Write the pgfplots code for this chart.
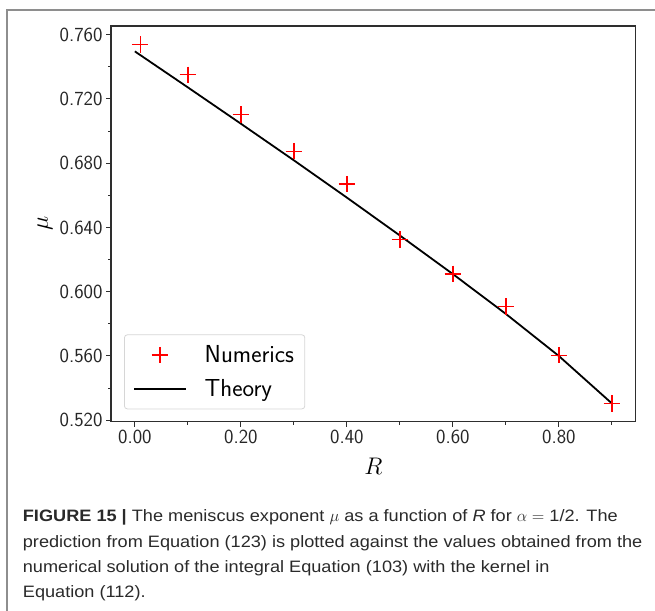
\RequirePackage{fix-cm}
\documentclass[border=0pt]{standalone}
\usepackage{fontspec}
\setmainfont{Liberation Sans}
\newfontfamily\capfont[FakeStretch=1.1]{Liberation Sans}
\usepackage{pgfplots}
\pgfplotsset{compat=1.18}

\definecolor{framegray}{HTML}{8E8E8E}
\definecolor{axisgray}{HTML}{2E2E2E}
\definecolor{captext}{HTML}{2A2A2A}
\definecolor{legendedge}{HTML}{D6D6D6}

% legend samples: a single cross centred in a 51.7pt slot, and a line across it
\pgfplotsset{
  numlegend/.style={legend image code/.code={\draw[mark repeat=2,mark phase=2,##1]
    plot coordinates {(0pt,0pt)(25.85pt,0pt)(51.7pt,0pt)};}},
  thlegend/.style={legend image code/.code={\draw[##1] (0pt,0pt) -- (51.7pt,0pt);}},
}

% mu(R) for alpha = 1/2: numerical solution of the integral equation
\pgfplotstableread{
R     mu
0.01  0.7540
0.10  0.7350
0.20  0.7102
0.30  0.6875
0.40  0.6670
0.50  0.6325
0.60  0.6111
0.70  0.5909
0.80  0.5605
0.90  0.5303
}\numerics

% mu(R) predicted by the asymptotic theory
\pgfplotstableread{
R     mu
0.00  0.7496
0.10  0.7272
0.20  0.7046
0.30  0.6818
0.40  0.6586
0.50  0.6350
0.60  0.6110
0.70  0.5862
0.80  0.5600
0.90  0.5305
}\theory

\begin{document}
\begin{tikzpicture}[x=1pt,y=1pt]
\path[use as bounding box] (0,0) rectangle (655,-610);
\draw[framegray, line width=2pt] (7,-611) -- (7,-9.7) -- (656,-9.7);

\begin{axis}[
  at={(111pt,-421.7pt)}, anchor=south west,
  scale only axis, width=524.7pt, height=395.7pt,
  xmin=-0.045, xmax=0.945, ymin=0.5191, ymax=0.7654,
  axis line style={axisgray, line width=1.2pt},
  xtick={0,0.2,0.4,0.6,0.8},
  minor xtick={0.1,0.3,0.5,0.7,0.9},
  ytick={0.52,0.56,0.60,0.64,0.68,0.72,0.76},
  minor ytick={0.54,0.58,0.62,0.66,0.70,0.74},
  xtick pos=left, ytick pos=left,
  tick align=outside,
  major tick length=5pt, minor tick length=3pt,
  tick style={axisgray, line width=1pt},
  scaled ticks=false,
  tick label style={font=\fontsize{20}{24}\sffamily, text=black!85},
  x tick label style={/pgf/number format/.cd, fixed, fixed zerofill, precision=2, assume math mode=true},
  y tick label style={/pgf/number format/.cd, fixed, fixed zerofill, precision=3, assume math mode=true},
  xlabel={$R$}, ylabel={$\mu$},
  label style={font=\fontsize{24}{28}\selectfont},
  xlabel style={at={(axis description cs:0.5,-0.1137)}, anchor=center},
  ylabel style={at={(axis description cs:-0.1258,0.5)}, anchor=center},
  legend cell align=left,
  legend style={
    at={(axis description cs:0.0248,0.0313)}, anchor=south west,
    draw=legendedge, line width=0.8pt, rounded corners=3pt, fill=white,
    font=\fontsize{24.6}{29}\sffamily,
    inner xsep=8.8pt, inner ysep=9pt,
    row sep=11pt,
    /tikz/every odd column/.append style={column sep=16pt},
  },
]
\addplot[only marks, mark=+, mark size=8.3pt, red, line width=1.3pt, numlegend]
  table[x=R, y=mu] {\numerics};
\addlegendentry{Numerics}
\addplot[black, line width=1.8pt, thlegend]
  table[x=R, y=mu] {\theory};
\addlegendentry{Theory}
\end{axis}

\begin{scope}[every node/.style={anchor=base west, inner sep=0pt, text=captext,
    font=\capfont\fontsize{16.5}{20}\selectfont}]
\node at (22.7,-521.7) {\textbf{FIGURE 15 |} The meniscus exponent $\mu$ as a function of \textit{R} for $\alpha =$ 1/2. The};
\node at (22.7,-547.0) {prediction from Equation (123) is plotted against the values obtained from the};
\node at (22.7,-572.3) {numerical solution of the integral Equation (103) with the kernel in};
\node at (22.7,-597.6) {Equation (112).};
\end{scope}
\end{tikzpicture}
\end{document}
